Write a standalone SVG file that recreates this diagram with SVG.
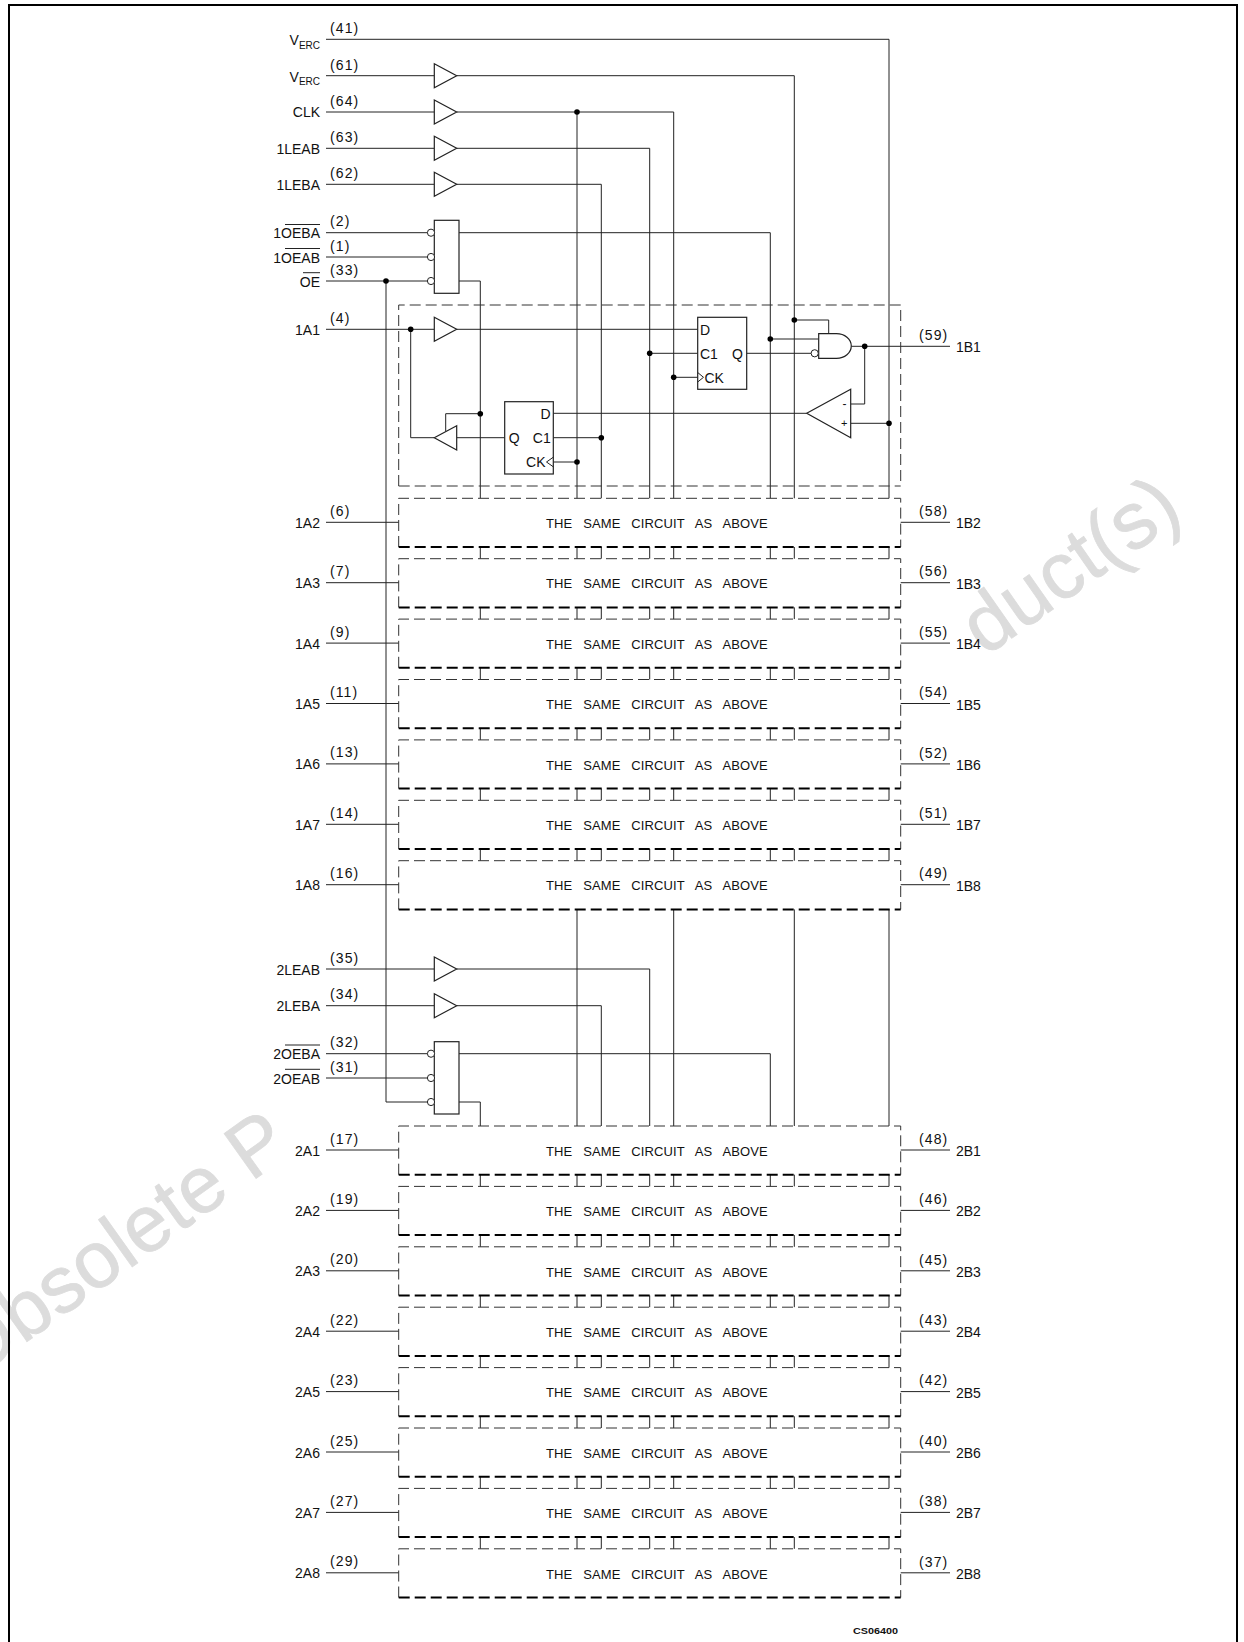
<svg xmlns="http://www.w3.org/2000/svg" width="1244" height="1642" viewBox="0 0 1244 1642">
<style>
text{font-family:"Liberation Sans",Arial,sans-serif;font-size:14px;fill:#111}
.e{text-anchor:end}
.sub{font-size:10px}
.w{fill:none;stroke:#222;stroke-width:1}
.s{fill:#fff;stroke:#222;stroke-width:1.2}
.d{fill:none;stroke:#333;stroke-width:1;stroke-dasharray:11 5}
.t{fill:none;stroke:#000;stroke-width:2;stroke-dasharray:11 5}
.c{font-size:13px;letter-spacing:.1px;word-spacing:7.2px}
.n{letter-spacing:1.1px}
.wm{font-size:80px;fill:#dcdcdc;stroke:#dcdcdc;stroke-width:.8}
</style>
<defs>
<path id="buf" class="s" d="M0-12L22.4 0L0 12Z"/>
<circle id="dot" r="2.8" fill="#000"/>
<circle id="bub" r="3.6" fill="#fff" stroke="#222" stroke-width="1"/>
<path id="pin" class="w" d="M326 0H398.7M900.7 0H950"/>
<path id="gap" class="w" d="M480.3 0v11.7M577 0v11.7M601.3 0v11.7M649.7 0v11.7M673.7 0v11.7M770.3 0v11.7M794.3 0v11.7M889 0v11.7"/>
<g id="box">
<path class="d" d="M398.7 24.7V-24H900.7V24.7"/>
<path class="t" d="M398.7 24.7H900.7"/>
</g>
<clipPath id="wmclip"><rect x="0" y="1000" width="274" height="500"/></clipPath>
</defs>
<g id="watermark">
<g clip-path="url(#wmclip)"><text class="wm" transform="translate(-28 1381) rotate(-35.5)">Obsolete P</text></g>
<text class="wm" transform="translate(985 657) rotate(-35)">duct(s)</text>
</g>
<path id="frame" d="M9 1642V5H1237V1642" fill="none" stroke="#000" stroke-width="2"/>
<g id="connectors">
<path class="w" d="M326 39.3H889V498.3M889 909.4V1126"/>
<path class="w" d="M326 75.7H434.3M456.7 75.7H794.3V498.3M794.3 909.4V1126"/>
<path class="w" d="M326 112H434.3M456.7 112H673.7V498.3M673.7 909.4V1126M577 112V498.3M577 909.4V1126"/>
<path class="w" d="M326 148.3H434.3M456.7 148.3H649.7V498.3"/>
<path class="w" d="M326 184.3H434.3M456.7 184.3H601.3V498.3"/>
<path class="w" d="M326 232.7H427.5M326 257H427.5M326 281H427.5"/>
<path class="w" d="M459 232.7H770.3V498.3M459 281H480.3V498.3"/>
<path class="w" d="M386 281V1102H427.5"/>
<path class="w" d="M326 329.3H434.3M456.7 329.3H697.7M410.7 329.3V437.7H434.3"/>
<path class="w" d="M456.7 437.7H504.7M553.3 437.7H601.3M553.3 462H577M445.7 431.4V413.7H480.3"/>
<path class="w" d="M553.3 413.3H806.7M649.7 353.3H697.7M673.7 377.3H697.7"/>
<path class="w" d="M746.7 353.3H811M770.3 339H818.7M794.3 320H828.7V333.7"/>
<path class="w" d="M851.3 346.3H950M864.7 346.3V404H850.7M850.7 423.3H889"/>
<path class="w" d="M326 969H434.3M456.7 969H649.7V1126M326 1005.7H434.3M456.7 1005.7H601.3V1126"/>
<path class="w" d="M326 1053.7H427.5M326 1078H427.5M459 1053.7H770.3V1126M459 1102H480.3V1126"/>
<use href="#pin" y="522.3"/><use href="#pin" y="582.7"/><use href="#pin" y="643.1"/><use href="#pin" y="703.5"/><use href="#pin" y="763.9"/><use href="#pin" y="824.3"/><use href="#pin" y="884.7"/>
<use href="#pin" y="1150"/><use href="#pin" y="1210.4"/><use href="#pin" y="1270.8"/><use href="#pin" y="1331.2"/><use href="#pin" y="1391.6"/><use href="#pin" y="1452"/><use href="#pin" y="1512.4"/><use href="#pin" y="1572.8"/>
<use href="#gap" y="547"/><use href="#gap" y="607.4"/><use href="#gap" y="667.8"/><use href="#gap" y="728.2"/><use href="#gap" y="788.6"/><use href="#gap" y="849"/>
<use href="#gap" y="1174.7"/><use href="#gap" y="1235.1"/><use href="#gap" y="1295.5"/><use href="#gap" y="1355.9"/><use href="#gap" y="1416.3"/><use href="#gap" y="1476.7"/><use href="#gap" y="1537.1"/>
<use href="#dot" x="577" y="112"/><use href="#dot" x="386" y="281"/><use href="#dot" x="410.7" y="329.3"/><use href="#dot" x="480.3" y="413.7"/><use href="#dot" x="601.3" y="437.7"/><use href="#dot" x="577" y="462"/><use href="#dot" x="649.7" y="353.3"/><use href="#dot" x="673.7" y="377.3"/><use href="#dot" x="770.3" y="339"/><use href="#dot" x="794.3" y="320"/><use href="#dot" x="864.7" y="346.3"/><use href="#dot" x="889" y="423.3"/>
</g>
<g id="pins-top">
<text class="e" x="320" y="45">V<tspan class="sub" dy="3.5">ERC</tspan></text><text class="n" x="330" y="33">(41)</text>
<text class="e" x="320" y="81.5">V<tspan class="sub" dy="3.5">ERC</tspan></text><text class="n" x="330" y="69.5">(61)</text>
<text class="e" x="320" y="117.3">CLK</text><text class="n" x="330" y="105.8">(64)</text>
<text class="e" x="320" y="153.8">1LEAB</text><text class="n" x="330" y="142">(63)</text>
<text class="e" x="320" y="189.8">1LEBA</text><text class="n" x="330" y="178">(62)</text>
<text class="e" x="320" y="238.2">1OEBA</text><path class="w" d="M285 224.5H320"/><text class="n" x="330" y="226.3">(2)</text>
<text class="e" x="320" y="262.5">1OEAB</text><path class="w" d="M285 248.5H320"/><text class="n" x="330" y="250.5">(1)</text>
<text class="e" x="320" y="286.5">OE</text><path class="w" d="M303 272.7H320"/><text class="n" x="330" y="274.5">(33)</text>
</g>
<g id="buf-61"><use href="#buf" x="434.3" y="75.7"/></g>
<g id="buf-64"><use href="#buf" x="434.3" y="112"/></g>
<g id="buf-63"><use href="#buf" x="434.3" y="148.3"/></g>
<g id="buf-62"><use href="#buf" x="434.3" y="184.3"/></g>
<g id="oe-1"><rect class="s" x="434.3" y="220.3" width="24.7" height="73"/><use href="#bub" x="431" y="232.7"/><use href="#bub" x="431" y="257"/><use href="#bub" x="431" y="281"/></g>
<g id="circuit-1B1">
<path class="d" d="M398.7 486V305H900.7V486M398.7 486H900.7"/>
<text class="e" x="320" y="334.8">1A1</text><text class="n" x="330" y="323">(4)</text>
<text class="n" x="919" y="340">(59)</text><text x="956" y="352.3">1B1</text>
</g>
<g id="buf-in"><use href="#buf" x="434.3" y="329.3"/></g>
<g id="buf-out"><path class="s" d="M456.7 425.7L434.3 437.7L456.7 450Z"/></g>
<g id="ff-ab"><rect class="s" x="697.7" y="317.3" width="49" height="72"/>
<path class="w" d="M697.7 372.5L703.5 377.3L697.7 382"/>
<text x="700" y="334.6">D</text><text x="700" y="358.6">C1</text><text x="704.5" y="382.6">CK</text><text class="e" x="743" y="358.6">Q</text></g>
<g id="ff-ba"><rect class="s" x="504.7" y="401.7" width="48.6" height="72.3"/>
<path class="w" d="M553.3 457.2L546.5 462L553.3 466.8"/>
<text class="e" x="550.7" y="418.8">D</text><text class="e" x="550.7" y="443">C1</text><text class="e" x="545.5" y="467.3">CK</text><text x="508.7" y="443">Q</text></g>
<g id="and"><path class="s" d="M818.7 333.7H836.5A14.8 12.3 0 0 1 836.5 358.3H818.7Z"/><use href="#bub" x="814.7" y="353.3"/></g>
<g id="comp"><path class="s" d="M806.7 413.3L850.7 389.3V437.7Z"/>
<text x="844.5" y="407.5" text-anchor="middle" style="font-size:12px">-</text><text x="844.3" y="427.2" style="font-size:11px" text-anchor="middle">+</text></g>

<g id="row-1A2" transform="translate(0 522.3)"><use href="#box"/><text class="e" x="320" y="5.5">1A2</text><text class="n" x="330" y="-6.5">(6)</text><text class="c" x="546" y="5.7">THE SAME CIRCUIT AS ABOVE</text><text class="n" x="919" y="-6.3">(58)</text><text x="956" y="6">1B2</text></g>
<g id="row-1A3" transform="translate(0 582.7)"><use href="#box"/><text class="e" x="320" y="5.5">1A3</text><text class="n" x="330" y="-6.5">(7)</text><text class="c" x="546" y="5.7">THE SAME CIRCUIT AS ABOVE</text><text class="n" x="919" y="-6.3">(56)</text><text x="956" y="6">1B3</text></g>
<g id="row-1A4" transform="translate(0 643.1)"><use href="#box"/><text class="e" x="320" y="5.5">1A4</text><text class="n" x="330" y="-6.5">(9)</text><text class="c" x="546" y="5.7">THE SAME CIRCUIT AS ABOVE</text><text class="n" x="919" y="-6.3">(55)</text><text x="956" y="6">1B4</text></g>
<g id="row-1A5" transform="translate(0 703.5)"><use href="#box"/><text class="e" x="320" y="5.5">1A5</text><text class="n" x="330" y="-6.5">(11)</text><text class="c" x="546" y="5.7">THE SAME CIRCUIT AS ABOVE</text><text class="n" x="919" y="-6.3">(54)</text><text x="956" y="6">1B5</text></g>
<g id="row-1A6" transform="translate(0 763.9)"><use href="#box"/><text class="e" x="320" y="5.5">1A6</text><text class="n" x="330" y="-6.5">(13)</text><text class="c" x="546" y="5.7">THE SAME CIRCUIT AS ABOVE</text><text class="n" x="919" y="-6.3">(52)</text><text x="956" y="6">1B6</text></g>
<g id="row-1A7" transform="translate(0 824.3)"><use href="#box"/><text class="e" x="320" y="5.5">1A7</text><text class="n" x="330" y="-6.5">(14)</text><text class="c" x="546" y="5.7">THE SAME CIRCUIT AS ABOVE</text><text class="n" x="919" y="-6.3">(51)</text><text x="956" y="6">1B7</text></g>
<g id="row-1A8" transform="translate(0 884.7)"><use href="#box"/><text class="e" x="320" y="5.5">1A8</text><text class="n" x="330" y="-6.5">(16)</text><text class="c" x="546" y="5.7">THE SAME CIRCUIT AS ABOVE</text><text class="n" x="919" y="-6.3">(49)</text><text x="956" y="6">1B8</text></g>

<g id="pins-mid">
<text class="e" x="320" y="974.5">2LEAB</text><text class="n" x="330" y="962.5">(35)</text>
<text class="e" x="320" y="1011.2">2LEBA</text><text class="n" x="330" y="999">(34)</text>
<text class="e" x="320" y="1059.2">2OEBA</text><path class="w" d="M285 1045H320"/><text class="n" x="330" y="1047.3">(32)</text>
<text class="e" x="320" y="1083.5">2OEAB</text><path class="w" d="M285 1069.3H320"/><text class="n" x="330" y="1071.5">(31)</text>
</g>
<g id="buf-35"><use href="#buf" x="434.3" y="969"/></g>
<g id="buf-34"><use href="#buf" x="434.3" y="1005.7"/></g>
<g id="oe-2"><rect class="s" x="434.3" y="1041.7" width="24.7" height="72.3"/><use href="#bub" x="431" y="1053.7"/><use href="#bub" x="431" y="1078"/><use href="#bub" x="431" y="1102"/></g>

<g id="row-2A1" transform="translate(0 1150)"><use href="#box"/><text class="e" x="320" y="5.5">2A1</text><text class="n" x="330" y="-6.5">(17)</text><text class="c" x="546" y="5.7">THE SAME CIRCUIT AS ABOVE</text><text class="n" x="919" y="-6.3">(48)</text><text x="956" y="6">2B1</text></g>
<g id="row-2A2" transform="translate(0 1210.4)"><use href="#box"/><text class="e" x="320" y="5.5">2A2</text><text class="n" x="330" y="-6.5">(19)</text><text class="c" x="546" y="5.7">THE SAME CIRCUIT AS ABOVE</text><text class="n" x="919" y="-6.3">(46)</text><text x="956" y="6">2B2</text></g>
<g id="row-2A3" transform="translate(0 1270.8)"><use href="#box"/><text class="e" x="320" y="5.5">2A3</text><text class="n" x="330" y="-6.5">(20)</text><text class="c" x="546" y="5.7">THE SAME CIRCUIT AS ABOVE</text><text class="n" x="919" y="-6.3">(45)</text><text x="956" y="6">2B3</text></g>
<g id="row-2A4" transform="translate(0 1331.2)"><use href="#box"/><text class="e" x="320" y="5.5">2A4</text><text class="n" x="330" y="-6.5">(22)</text><text class="c" x="546" y="5.7">THE SAME CIRCUIT AS ABOVE</text><text class="n" x="919" y="-6.3">(43)</text><text x="956" y="6">2B4</text></g>
<g id="row-2A5" transform="translate(0 1391.6)"><use href="#box"/><text class="e" x="320" y="5.5">2A5</text><text class="n" x="330" y="-6.5">(23)</text><text class="c" x="546" y="5.7">THE SAME CIRCUIT AS ABOVE</text><text class="n" x="919" y="-6.3">(42)</text><text x="956" y="6">2B5</text></g>
<g id="row-2A6" transform="translate(0 1452)"><use href="#box"/><text class="e" x="320" y="5.5">2A6</text><text class="n" x="330" y="-6.5">(25)</text><text class="c" x="546" y="5.7">THE SAME CIRCUIT AS ABOVE</text><text class="n" x="919" y="-6.3">(40)</text><text x="956" y="6">2B6</text></g>
<g id="row-2A7" transform="translate(0 1512.4)"><use href="#box"/><text class="e" x="320" y="5.5">2A7</text><text class="n" x="330" y="-6.5">(27)</text><text class="c" x="546" y="5.7">THE SAME CIRCUIT AS ABOVE</text><text class="n" x="919" y="-6.3">(38)</text><text x="956" y="6">2B7</text></g>
<g id="row-2A8" transform="translate(0 1572.8)"><use href="#box"/><text class="e" x="320" y="5.5">2A8</text><text class="n" x="330" y="-6.5">(29)</text><text class="c" x="546" y="5.7">THE SAME CIRCUIT AS ABOVE</text><text class="n" x="919" y="-6.3">(37)</text><text x="956" y="6">2B8</text></g>
<text id="code" x="853" y="1634" style="font-size:9px;font-weight:bold" textLength="45" lengthAdjust="spacingAndGlyphs">CS06400</text>
</svg>
